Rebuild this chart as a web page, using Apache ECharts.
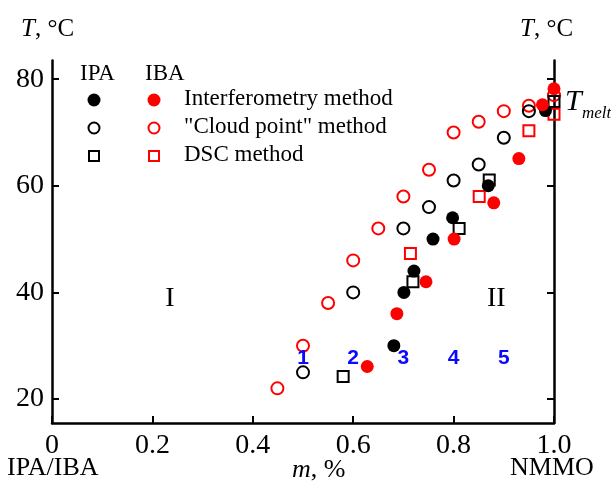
<!DOCTYPE html>
<html>
<head>
<meta charset="utf-8">
<script src="https://cdn.jsdelivr.net/npm/echarts@6/dist/echarts.min.js"></script>
<style>
	html, body { margin: 0; padding: 0; background: #fff; }
	#chart { width: 611px; height: 487px; }
</style>
</head>
<body>
<div id="chart"></div>
<script>
	// m (fraction NMMO), T in °C
	var ipaInterf = [[0.681, 30], [0.701, 40], [0.721, 44], [0.759, 50], [0.798, 54], [0.869, 60], [0.983, 74.1]];
	var ibaInterf = [[0.628, 26.1], [0.687, 36], [0.745, 42], [0.801, 50], [0.880, 56.8], [0.930, 65.1], [0.977, 75.2], [1.0, 78.2]];
	var ipaCloud = [[0.5, 25], [0.6, 40], [0.7, 52], [0.751, 56], [0.8, 61], [0.85, 64], [0.9, 69], [0.95, 74]];
	var ibaCloud = [[0.449, 22], [0.5, 30], [0.55, 38], [0.6, 46], [0.65, 52], [0.7, 58], [0.751, 63], [0.8, 70], [0.85, 72], [0.9, 74], [0.95, 75], [1.0, 77]];
	var ipaDsc = [[0.58, 24.2], [0.719, 42], [0.811, 52], [0.871, 61.1], [1.0, 75.8]];
	var ibaDsc = [[0.714, 47.3], [0.851, 58], [0.950, 70.3], [1.0, 73.4]];

	var curveLabels = ['1', '2', '3', '4', '5'];
	var curveLabelX = [0.5, 0.6, 0.7, 0.8, 0.9];
	var curveLabelY = 27.7;
	var regionLabels = [['I', 0.235, 38.9], ['II', 0.885, 38.9]];

	var yTicks = [20, 40, 60, 80];
	var legendRows = ['Interferometry method', '"Cloud point" method', 'DSC method'];

	var serif = 'Liberation Serif';
	var red = '#ff0000';

	function openStyle(c) {
		return { color: 'rgba(255,255,255,0)', borderColor: c, borderWidth: 2, opacity: 1 };
	}

	function generateChart() {
		var myChart = echarts.init(document.getElementById('chart'));
		var legendY = [100, 128, 156];
		var italicRich = { i: { fontStyle: 'italic', fontFamily: serif, fontSize: 25 } };
		var italicRich2 = { i: { fontStyle: 'italic', fontFamily: serif, fontSize: 26 } };
		var graphics = [
			{ type: 'text', left: 21, top: 17, style: { text: '{i|T}, °C', rich: italicRich, font: '25px ' + serif, fill: '#000' } },
			{ type: 'text', left: 520, top: 17, style: { text: '{i|T}, °C', rich: italicRich, font: '25px ' + serif, fill: '#000' } },
			{ type: 'text', left: 565, top: 87, style: { text: 'T', font: 'italic 30px ' + serif, fill: '#000' } },
			{ type: 'text', left: 582, top: 105, style: { text: 'melt', font: 'italic 17px ' + serif, fill: '#000' } },
			{ type: 'text', left: 80, top: 62, style: { text: 'IPA', font: '23px ' + serif, fill: '#000' } },
			{ type: 'text', left: 145, top: 62, style: { text: 'IBA', font: '23px ' + serif, fill: '#000' } },
			{ type: 'text', left: 7, top: 455, style: { text: 'IPA/IBA', font: '26px ' + serif, fill: '#000' } },
			{ type: 'text', left: 292, top: 457, style: { text: '{i|m}, %', rich: italicRich2, font: '26px ' + serif, fill: '#000' } },
			{ type: 'text', left: 510, top: 455, style: { text: 'NMMO', font: '26px ' + serif, fill: '#000' } },
			// legend markers
			{ type: 'circle', shape: { cx: 94, cy: legendY[0], r: 6.5 }, style: { fill: '#000' } },
			{ type: 'circle', shape: { cx: 154, cy: legendY[0], r: 6.5 }, style: { fill: red } },
			{ type: 'circle', shape: { cx: 94, cy: legendY[1], r: 5.5 }, style: { fill: 'none', stroke: '#000', lineWidth: 2 } },
			{ type: 'circle', shape: { cx: 154, cy: legendY[1], r: 5.5 }, style: { fill: 'none', stroke: red, lineWidth: 2 } },
			{ type: 'rect', shape: { x: 89, y: legendY[2] - 5, width: 10, height: 10 }, style: { fill: 'none', stroke: '#000', lineWidth: 2 } },
			{ type: 'rect', shape: { x: 149, y: legendY[2] - 5, width: 10, height: 10 }, style: { fill: 'none', stroke: red, lineWidth: 2 } }
		];
		legendRows.forEach(function (t, i) {
			graphics.push({ type: 'text', left: 184, top: legendY[i] - 13, style: { text: t, font: '23px ' + serif, fill: '#000' } });
		});

		var yAxisBase = {
			type: 'value',
			min: 15.5,
			max: 83.5,
			axisLine: { show: true, lineStyle: { color: '#000', width: 2.5 } },
			axisTick: { show: true, inside: true, length: 7, customValues: yTicks, lineStyle: { color: '#000', width: 2 } },
			splitLine: { show: false }
		};

		var option = {
			animation: false,
			backgroundColor: '#fff',
			grid: { left: 52, right: 57, top: 60.5, bottom: 64 },
			xAxis: {
				type: 'value',
				min: 0,
				max: 1,
				interval: 0.2,
				axisLine: { lineStyle: { color: '#000', width: 2.5 } },
				axisTick: { inside: true, length: 7, lineStyle: { color: '#000', width: 2 } },
				axisLabel: {
					color: '#000', fontFamily: serif, fontSize: 28, margin: 9,
					formatter: function (v) { return v === 0 ? '0' : v.toFixed(1); }
				},
				splitLine: { show: false }
			},
			yAxis: [
				Object.assign({}, yAxisBase, {
					position: 'left',
					axisLabel: { customValues: yTicks, color: '#000', fontFamily: serif, fontSize: 28, margin: 8 }
				}),
				Object.assign({}, yAxisBase, {
					position: 'right',
					axisLabel: { show: false }
				})
			],
			graphic: graphics,
			series: [
				{ name: 'IBA cloud', type: 'scatter', symbol: 'circle', symbolSize: 12, itemStyle: openStyle(red), data: ibaCloud },
				{ name: 'IPA cloud', type: 'scatter', symbol: 'circle', symbolSize: 12, itemStyle: openStyle('#000'), data: ipaCloud },
				{ name: 'IPA DSC', type: 'scatter', symbol: 'rect', symbolSize: 11, itemStyle: openStyle('#000'), data: ipaDsc },
				{ name: 'IBA DSC', type: 'scatter', symbol: 'rect', symbolSize: 11, itemStyle: openStyle(red), data: ibaDsc },
				{ name: 'IPA interf', type: 'scatter', symbol: 'circle', symbolSize: 13, itemStyle: { color: '#000', opacity: 1 }, data: ipaInterf },
				{ name: 'IBA interf', type: 'scatter', symbol: 'circle', symbolSize: 13, itemStyle: { color: red, opacity: 1 }, data: ibaInterf },
				{
					name: 'curves', type: 'scatter', symbolSize: 0, silent: true, itemStyle: { opacity: 1 },
					label: { show: true, position: 'inside', formatter: '{b}', color: '#0a0aff', opacity: 1, fontFamily: 'Liberation Sans', fontWeight: 'bold', fontSize: 21 },
					data: curveLabels.map(function (t, i) { return { name: t, value: [curveLabelX[i], curveLabelY] }; })
				},
				{
					name: 'regions', type: 'scatter', symbolSize: 0, silent: true, itemStyle: { opacity: 1 },
					label: { show: true, position: 'inside', formatter: '{b}', color: '#000', opacity: 1, fontFamily: serif, fontSize: 28 },
					data: regionLabels.map(function (r) { return { name: r[0], value: [r[1], r[2]] }; })
				}
			]
		};
		myChart.setOption(option);
	}

	generateChart();
</script>
</body>
</html>
